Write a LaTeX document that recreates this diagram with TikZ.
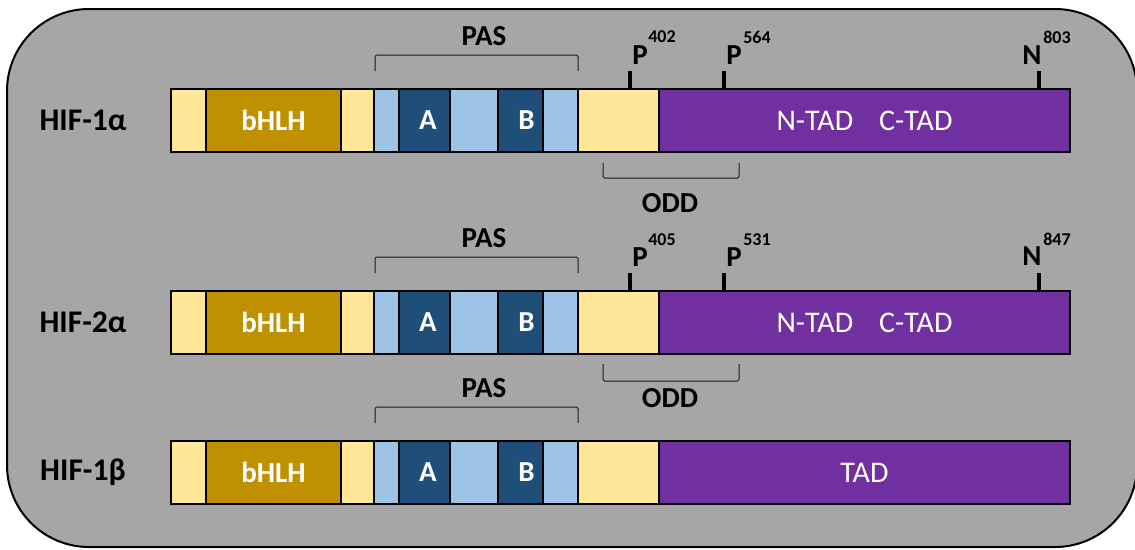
\documentclass[tikz,border=0pt]{standalone}
\usepackage{fontspec}
\setmainfont{Carlito}
\definecolor{bggray}{HTML}{A6A6A6}
\definecolor{pale}{HTML}{FFE699}
\definecolor{gold}{HTML}{BF9000}
\definecolor{lblue}{HTML}{9DC3E6}
\definecolor{dblue}{HTML}{1F4E79}
\definecolor{tadpurple}{HTML}{7030A0}

\begin{document}
\begin{tikzpicture}[x=1pt, y=-1pt,
  every node/.style={inner sep=0pt, outer sep=0pt},
  blk/.style={draw=black, line width=2.5pt, minimum height=63pt},
  txt/.style={font=\bfseries\fontsize{29}{31}\selectfont},
  hiflbl/.style={font=\bfseries\fontsize{31.5}{33}\selectfont},
  plain/.style={font=\fontsize{30}{32}\selectfont},
  sup/.style={font=\bfseries\fontsize{18}{20}\selectfont},
  brk/.style={line width=1pt, rounded corners=1.5pt, color=black!90},
  tick/.style={line width=4pt}]
\useasboundingbox (0,0) rectangle (1135,549);
\draw[fill=bggray, line width=2pt, rounded corners=82pt] (7,9) rectangle (1137,547);

% HIF-1 alpha
\node[hiflbl] (n1) at (83,120.5) {HIF-1α};
\node[blk, fill=pale, minimum width=35pt] (r1a) at (188.5,120.5) {};
\node[blk, fill=gold, minimum width=135pt, txt, text=white] (r1b) at (273.5,120.5) {bHLH};
\node[blk, fill=pale, minimum width=33pt] (r1c) at (357.5,120.5) {};
\node[blk, fill=lblue, minimum width=25pt] (r1d) at (386.5,120.5) {};
\node[blk, fill=dblue, minimum width=51pt, txt, text=white] (r1e) at (424.5,120.5) {\hspace{7pt}A};
\node[blk, fill=lblue, minimum width=48pt] (r1f) at (474,120.5) {};
\node[blk, fill=dblue, minimum width=45pt, txt, text=white] (r1g) at (520.5,120.5) {\hspace{12pt}B};
\node[blk, fill=lblue, minimum width=35pt] (r1h) at (560.5,120.5) {};
\node[blk, fill=pale, minimum width=81pt] (r1i) at (618.5,120.5) {};
\node[blk, fill=tadpurple, minimum width=411pt, plain, text=white] (r1j) at (864.5,120.5) {N-TAD\hspace{26pt}C-TAD};

\node[txt] (pas1) at (484,36) {PAS};
\draw[brk] (375,71) -- (375,55) -- (578,55) -- (578,71);
\draw[tick] (630,71) -- (630,89);
\draw[tick] (724,71) -- (724,89);
\draw[tick] (1039,71) -- (1039,89);
\node[txt] (p1a) at (640,55) {P};
\node[sup] (s1a) at (662,37) {402};
\node[txt] (p1b) at (734,55) {P};
\node[sup] (s1b) at (757,37) {564};
\node[txt] (p1c) at (1032,55) {N};
\node[sup] (s1c) at (1057,37) {803};
\draw[brk] (603,163) -- (603,178) -- (739,178) -- (739,163);
\node[txt] (odd1) at (670,203) {ODD};

% HIF-2 alpha
\node[hiflbl] (n2) at (83,322.5) {HIF-2α};
\node[blk, fill=pale, minimum width=35pt] (r2a) at (188.5,322.5) {};
\node[blk, fill=gold, minimum width=135pt, txt, text=white] (r2b) at (273.5,322.5) {bHLH};
\node[blk, fill=pale, minimum width=33pt] (r2c) at (357.5,322.5) {};
\node[blk, fill=lblue, minimum width=25pt] (r2d) at (386.5,322.5) {};
\node[blk, fill=dblue, minimum width=51pt, txt, text=white] (r2e) at (424.5,322.5) {\hspace{7pt}A};
\node[blk, fill=lblue, minimum width=48pt] (r2f) at (474,322.5) {};
\node[blk, fill=dblue, minimum width=45pt, txt, text=white] (r2g) at (520.5,322.5) {\hspace{12pt}B};
\node[blk, fill=lblue, minimum width=35pt] (r2h) at (560.5,322.5) {};
\node[blk, fill=pale, minimum width=81pt] (r2i) at (618.5,322.5) {};
\node[blk, fill=tadpurple, minimum width=411pt, plain, text=white] (r2j) at (864.5,322.5) {N-TAD\hspace{26pt}C-TAD};

\node[txt] (pas2) at (484,238) {PAS};
\draw[brk] (375,273) -- (375,257) -- (578,257) -- (578,273);
\draw[tick] (630,273) -- (630,291);
\draw[tick] (724,273) -- (724,291);
\draw[tick] (1039,273) -- (1039,291);
\node[txt] (p2a) at (640,257) {P};
\node[sup] (s2a) at (662,240) {405};
\node[txt] (p2b) at (734,257) {P};
\node[sup] (s2b) at (757,240) {531};
\node[txt] (p2c) at (1032,256) {N};
\node[sup] (s2c) at (1057,239) {847};
\draw[brk] (603,364) -- (603,381) -- (739,381) -- (739,364);
\node[txt] (odd2) at (670,398) {ODD};

% HIF-1 beta
\node[hiflbl] (n3) at (83,472.5) {HIF-1β};
\node[blk, fill=pale, minimum width=35pt] (r3a) at (188.5,472.5) {};
\node[blk, fill=gold, minimum width=135pt, txt, text=white] (r3b) at (273.5,472.5) {bHLH};
\node[blk, fill=pale, minimum width=33pt] (r3c) at (357.5,472.5) {};
\node[blk, fill=lblue, minimum width=25pt] (r3d) at (386.5,472.5) {};
\node[blk, fill=dblue, minimum width=51pt, txt, text=white] (r3e) at (424.5,472.5) {\hspace{7pt}A};
\node[blk, fill=lblue, minimum width=48pt] (r3f) at (474,472.5) {};
\node[blk, fill=dblue, minimum width=45pt, txt, text=white] (r3g) at (520.5,472.5) {\hspace{12pt}B};
\node[blk, fill=lblue, minimum width=35pt] (r3h) at (560.5,472.5) {};
\node[blk, fill=pale, minimum width=81pt] (r3i) at (618.5,472.5) {};
\node[blk, fill=tadpurple, minimum width=411pt, plain, text=white] (r3j) at (864.5,472.5) {TAD};

\node[txt] (pas3) at (484,388) {PAS};
\draw[brk] (375,423) -- (375,407) -- (578,407) -- (578,423);
\end{tikzpicture}
\end{document}
